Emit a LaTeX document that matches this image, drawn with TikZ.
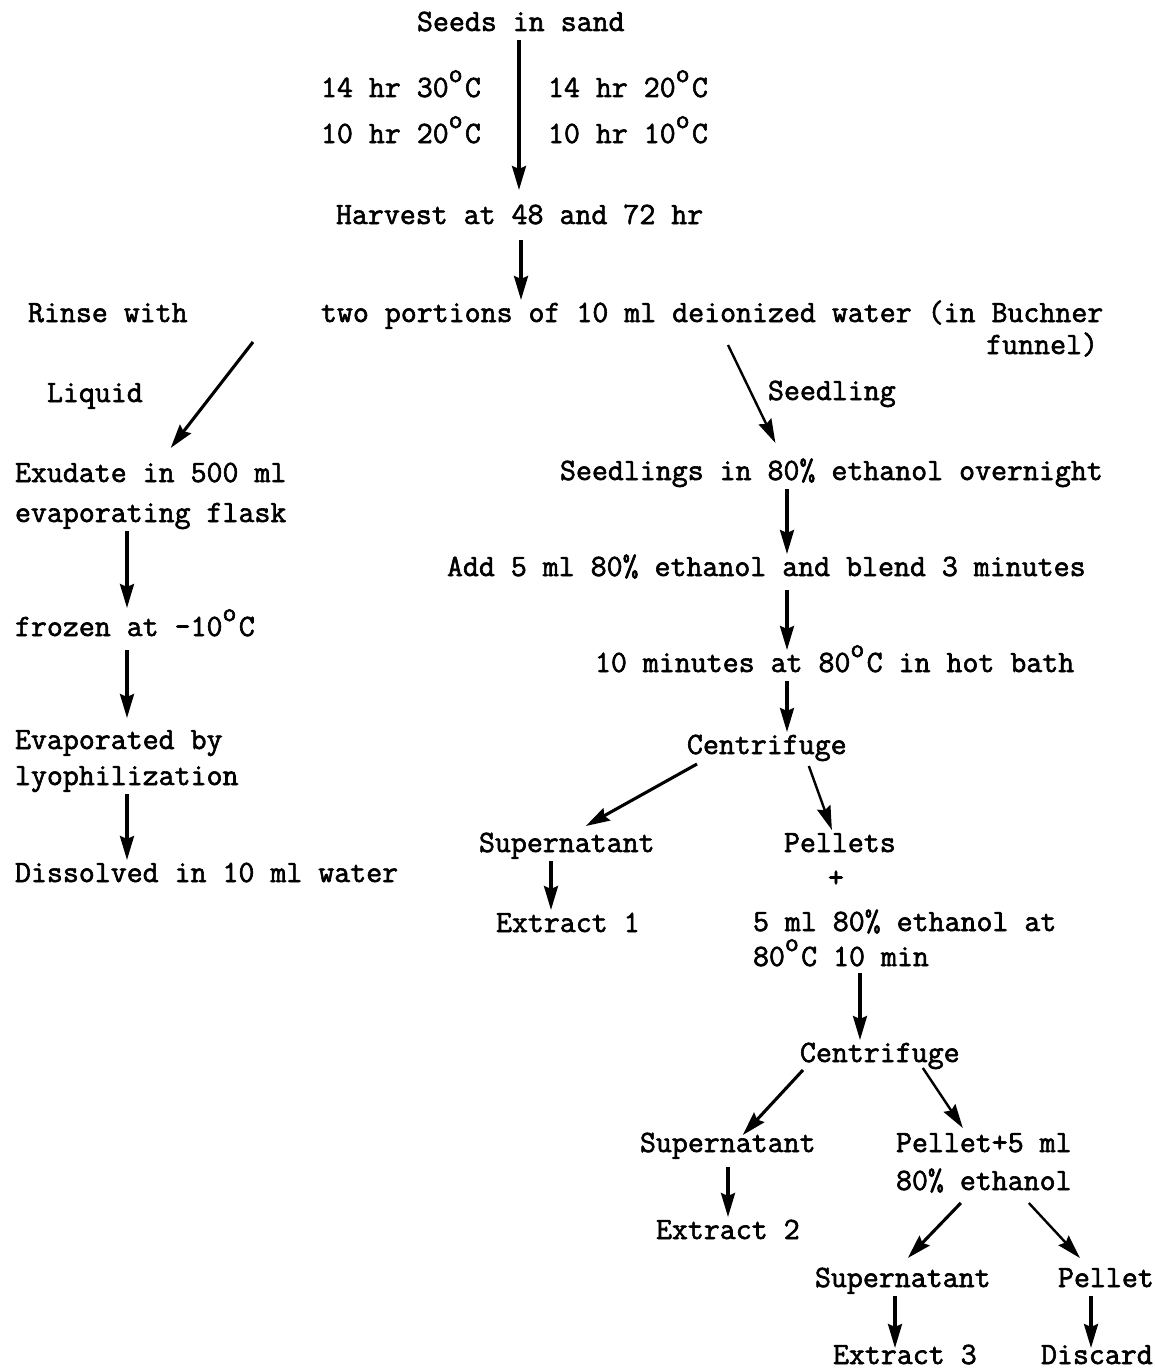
\documentclass[tikz,border=0pt]{standalone}
\usetikzlibrary{arrows.meta,calc}
\newcommand\dgr{\makebox[0.525em][l]{\raisebox{0.48em}{\fontsize{27}{27}\selectfont o}}}
\newcommand\heavytext{\special{pdf:literal 2 Tr 0.6 w}}
\begin{document}
\begin{tikzpicture}[x=1pt,y=-1pt,
  t/.style={anchor=base west,inner sep=0pt,outer sep=3pt,text height=19pt,text depth=6pt,
    font=\fontsize{31}{36}\selectfont\ttfamily\heavytext},
  arr/.style={draw,line width=3.1pt,-{Stealth[length=24pt,width=14pt,inset=3pt]}},
  thin/.style={line width=2.4pt}]
\fill[white] (0,0) rectangle (1155,1370);
\useasboundingbox (0,0) rectangle (1155,1370);
% text
\node[t] (seeds) at (414,31) {Seeds in sand};
\node[t] (c1) at (318,97) {14 hr 30\dgr C};
\node[t] (c2) at (545,97) {14 hr 20\dgr C};
\node[t] (c3) at (318,143) {10 hr 20\dgr C};
\node[t] (c4) at (545,143) {10 hr 10\dgr C};
\node[t] (harv) at (333,224) {Harvest at 48 and 72 hr};
\node[t] (rinse) at (25,322) {Rinse with};
\node[t] (two) at (318,322) {two portions of 10 ml deionized water (in Buchner};
\node[t,anchor=base east] (funnel) at (1101,354) {funnel)};
\node[t] (liquid) at (44,402) {Liquid};
\node[t] (sdl) at (765,400) {Seedling};
\node[t] (exa) at (12,482) {Exudate in 500 ml};
\node[t] (exb) at (12,522) {evaporating flask};
\node[t] (sdls) at (557,480) {Seedlings in 80\% ethanol overnight};
\node[t] (froz) at (12,636) {frozen at -10\dgr C};
\node[t] (add) at (444,576) {Add 5 ml 80\% ethanol and blend 3 minutes};
\node[t] (eva) at (12,749) {Evaporated by};
\node[t] (evb) at (12,785) {lyophilization};
\node[t] (hot) at (592,672) {10 minutes at 80\dgr C in hot bath};
\node[t] (diss) at (12,882) {Dissolved in 10 ml water};
\node[t] (cfa) at (684,754) {Centrifuge};
\node[t] (supa) at (476,852) {Supernatant};
\node[t] (pels) at (781,852) {Pellets};
\node[t,anchor=base] (plus) at (836,887) {+};
\node[t] (ext1) at (493,932) {Extract 1};
\node[t] (fml) at (750,931) {5 ml 80\% ethanol at};
\node[t] (fmlb) at (750,966) {80\dgr C 10 min};
\node[t] (cfb) at (797,1062) {Centrifuge};
\node[t] (supb) at (637,1152) {Supernatant};
\node[t] (pelf) at (893,1152) {Pellet+5 ml};
\node[t] (peth) at (893,1190) {80\% ethanol};
\node[t] (ext2) at (653,1239) {Extract 2};
\node[t] (supc) at (812,1287) {Supernatant};
\node[t] (pel) at (1055,1287) {Pellet};
\node[t,text depth=0pt] (ext3) at (830,1364) {Extract 3};
\node[t,text depth=0pt] (disc) at (1038,1364) {Discard};
% x positions of vertical arrows
\coordinate (xa) at (519,0);
\coordinate (xb) at (521,0);
\coordinate (xl) at (127,0);
\coordinate (xr) at (787,0);
\coordinate (xs) at (551,0);
\coordinate (xf) at (860,0);
\coordinate (xe) at (728,0);
\coordinate (xg) at (895,0);
\coordinate (xh) at (1091,0);
% vertical arrows
\draw[arr,shorten >=12pt] (seeds.south -| xa) -- (harv.north -| xa);
\draw[arr,shorten <=7pt] (harv.south -| xb) -- (two.north -| xb);
\draw[arr,shorten >=6pt] (exb.south -| xl) -- (froz.north -| xl);
\draw[arr,shorten <=5pt,shorten >=9pt] (froz.south -| xl) -- (eva.north -| xl);
\draw[arr] (evb.south -| xl) -- (diss.north -| xl);
\draw[arr] (sdls.south -| xr) -- (add.north -| xr);
\draw[arr,shorten <=5pt] (add.south -| xr) -- (hot.north -| xr);
\draw[arr] (hot.south -| xr) -- (cfa.north -| xr);
\draw[arr] (supa.south -| xs) -- (ext1.north -| xs);
\draw[arr,shorten <=-2pt] (fmlb.south -| xf) -- (cfb.north -| xf);
\draw[arr,shorten <=6pt] (supb.south -| xe) -- (ext2.north -| xe);
\draw[arr,shorten >=-6pt] (supc.south -| xg) -- (ext3.north -| xg);
\draw[arr,shorten >=-6pt] (pel.south -| xh) -- (disc.north -| xh);
% diagonal arrows
\draw[arr] ([shift={(-65,11)}]two.south west) -- ([shift={(20,-12)}]exa.north);
\draw[arr,thin] ([shift={(410,14)}]two.south west) -- ([shift={(-56,-15)}]sdls.north);
\draw[arr] ([shift={(13,1)}]cfa.south west) -- ([shift={(19,-4)}]supa.north);
\draw[arr,thin] ([shift={(42,3)}]cfa.south) -- ([shift={(-8,0)}]pels.north);
\draw[arr] ([shift={(6,-1)}]cfb.south west) -- ([shift={(15,5)}]supb.north);
\draw[arr,thin] ([shift={(43,-3)}]cfb.south) -- ([shift={(-21,-2)}]pelf.north);
\draw[arr] ([shift={(-23,4)}]peth.south) -- ([shift={(5,-7)}]supc.north);
\draw[arr,thin] ([shift={(45,4)}]peth.south) -- ([shift={(-26,-7)}]pel.north);
\end{tikzpicture}
\end{document}
